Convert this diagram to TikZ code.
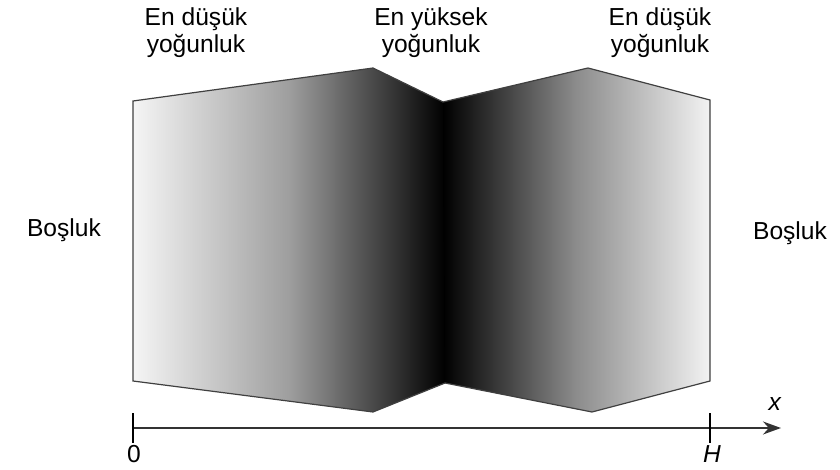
\documentclass[tikz,border=0pt]{standalone}
\usepackage{fontspec}
\setmainfont{Liberation Sans}
\usetikzlibrary{calc, positioning, arrows.meta}

\begin{document}
\begin{tikzpicture}[>={Stealth[length=9pt, width=6.5pt]}, x=0.5pt, y=-0.5pt,
    nhan/.style={font=\fontsize{12.3}{13.5}\selectfont, align=center, inner sep=0pt},
    vien/.style={line width=0.6pt, black!75}]

    \useasboundingbox (0,0) rectangle (840,470);

    % =================================================================
    % 1. CORNER POINTS OF THE TWO BLOCKS
    % =================================================================
    \coordinate (A1) at (133,101);   % top left
    \coordinate (A2) at (373,68);    % top peak, left block
    \coordinate (M1) at (443,102);   % top notch
    \coordinate (A3) at (588,68);    % top peak, right block
    \coordinate (A4) at (710,100);   % top right
    \coordinate (B4) at (710,381);   % bottom right
    \coordinate (B3) at (592,412);   % bottom peak, right block
    \coordinate (M2) at (445,383);   % bottom notch
    \coordinate (B2) at (373,412);   % bottom peak, left block
    \coordinate (B1) at (133,381);   % bottom left

    % =================================================================
    % 2. SHADED BLOCKS
    % =================================================================
    % black strip under the seam
    \fill[black] ($(M1)+(-4,1)$) -- ($(M1)+(4,1)$) -- ($(M2)+(4,-1)$) -- ($(M2)+(-4,-1)$) -- cycle;

    \shade[left color=white!96!black, right color=black, middle color=black!38]
        (A1) -- (A2) -- (M1) -- (M2) -- (B2) -- (B1) -- cycle;
    \shade[left color=black, right color=white!95!black, middle color=black!45]
        (M1) -- (A3) -- (A4) -- (B4) -- (B3) -- (M2) -- cycle;

    % outline
    \draw[vien] (A1) -- (A2) -- (M1) -- (A3) -- (A4) -- (B4)
        -- (B3) -- (M2) -- (B2) -- (B1) -- cycle;

    % =================================================================
    % 3. LABELS
    % =================================================================
    \node[nhan] (dusukL) at (196,33) {En düşük\\yoğunluk};
    \node[nhan] (yuksek) at (431,33) {En yüksek\\yoğunluk};
    \node[nhan] (dusukR) at (660,33) {En düşük\\yoğunluk};
    \node[nhan] (boslukL) at (64,230) {Boşluk};
    \node[nhan] (boslukR) at (790,233) {Boşluk};

    % =================================================================
    % 4. AXIS
    % =================================================================
    \coordinate (O) at (133,428);
    \coordinate (Hx) at (710,428);
    \coordinate (X) at (781,428);

    \draw[->, line width=0.8pt, black!80] (O) -- (X);
    \draw[line width=0.6pt] ($(O)+(0,-15)$) -- ($(O)+(0,15)$);
    \draw[line width=0.6pt] ($(Hx)+(0,-15)$) -- ($(Hx)+(0,15)$);

    \node[nhan] (nhan0) at (134,454) {0};
    \node[nhan] (nhanH) at (712,454) {\textit{H}};
    \node[nhan] (nhanx) at (775,404) {\textit{x}};

\end{tikzpicture}
\end{document}
